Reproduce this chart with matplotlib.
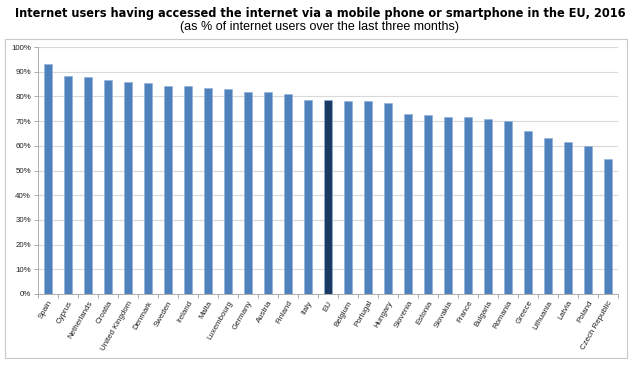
import matplotlib
matplotlib.use("Agg")
import matplotlib.pyplot as plt
from matplotlib.patches import Rectangle
from matplotlib.ticker import FixedLocator, PercentFormatter

countries = ["Spain", "Cyprus", "Netherlands", "Croatia", "United Kingdom", "Denmark",
             "Sweden", "Ireland", "Malta", "Luxembourg", "Germany", "Austria", "Finland",
             "Italy", "EU", "Belgium", "Portugal", "Hungary", "Slovenia", "Estonia",
             "Slovakia", "France", "Bulgaria", "Romania", "Greece", "Lithuania", "Latvia",
             "Poland", "Czech Republic"]
values = [93.1, 88.3, 88.0, 86.8, 85.7, 85.4, 84.4, 84.1, 83.3, 82.8, 81.8, 81.8, 80.9,
          78.7, 78.7, 78.3, 78.3, 77.5, 72.8, 72.3, 71.5, 71.5, 71.0, 70.1, 65.8, 63.0,
          61.6, 59.8, 54.5]

blue = "#4f81bd"
navy = "#1b3a63"
colors = [navy if c == "EU" else blue for c in countries]

fig = plt.figure(figsize=(6.4, 3.74), dpi=100)
ax = fig.add_axes([38 / 640, 1 - 294 / 374, 580 / 640, 247 / 374])

x = list(range(len(countries)))
ax.bar(x, values, width=0.4, color=colors, edgecolor="#8eb0dc", linewidth=0.4, zorder=3)

ax.set_xlim(-0.5, len(countries) - 0.5)
ax.set_ylim(0, 100)
ax.set_yticks(range(0, 101, 10))
ax.yaxis.set_major_formatter(PercentFormatter(decimals=0))
ax.grid(axis="y", color="#d9d9d9", linewidth=0.8, zorder=0)

ax.set_xticks(x)
ax.set_xticklabels(countries, rotation=60, ha="right", rotation_mode="anchor",
                   fontsize=5.7, color="#222222", family="Liberation Sans")
ax.tick_params(axis="x", which="major", length=0, pad=4)
ax.xaxis.set_minor_locator(FixedLocator([i - 0.5 for i in range(len(countries) + 1)]))
ax.tick_params(axis="x", which="minor", length=3, color="#a0a0a0", width=0.6)
ax.tick_params(axis="y", length=3, color="#a0a0a0", width=0.6, labelsize=5.7, pad=2,
               labelcolor="#222222")
for lbl in ax.get_yticklabels():
    lbl.set_family("Liberation Sans")

for s in ["top", "right"]:
    ax.spines[s].set_visible(False)
ax.spines["left"].set_color("#a0a0a0")
ax.spines["bottom"].set_color("#a0a0a0")
ax.spines["left"].set_linewidth(0.6)
ax.spines["bottom"].set_linewidth(0.6)

fig.patches.append(Rectangle((5 / 640, 1 - 358 / 374), 622 / 640, 319 / 374,
                             transform=fig.transFigure, fill=False,
                             edgecolor="#c8c8c8", linewidth=0.8))

fig.text(0.5, 1 - 13 / 374,
         "Internet users having accessed the internet via a mobile phone or smartphone in the EU, 2016",
         ha="center", va="center", fontsize=9.05, fontweight="bold",
         family="DejaVu Sans", fontstretch="condensed")
fig.text(0.5, 1 - 27 / 374, "(as % of internet users over the last three months)",
         ha="center", va="center", fontsize=9.0, family="Liberation Sans")

fig.savefig("out.png", dpi=100)
